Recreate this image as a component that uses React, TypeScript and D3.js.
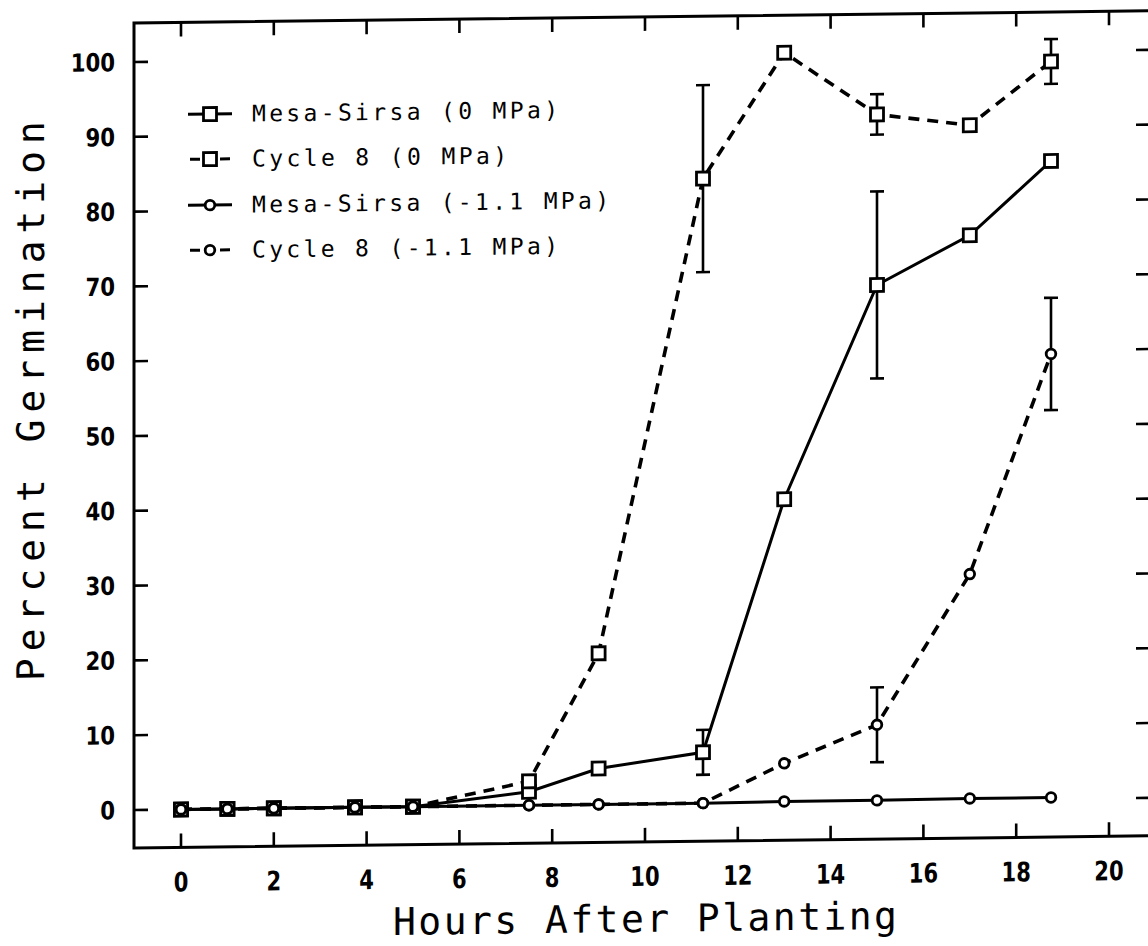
import React from 'react';
import * as d3 from 'd3';

// ---- data ----
const hours = [0, 1, 2, 3.75, 5, 7.5, 9, 11.25, 13, 15, 17, 18.75];

const mesaSirsa0 = [0, 0, 0, 0, 0, 1.8, 4.8, 6.8, 40.5, 69, 75.5, 85.3];
const mesaSirsa0Err = [0, 0, 0, 0, 0, 0, 0, 3, 0, 12.5, 0, 0];

const cycle8_0 = [0, 0, 0, 0, 0, 3.2, 20.2, 83.5, 100.2, 91.8, 90.2, 98.6];
const cycle8_0Err = [0, 0, 0, 0, 0, 0, 0, 12.5, 0, 2.7, 0, 3];

const mesaSirsaNeg = [0, 0, 0, 0, 0, 0, 0, 0, 0.1, 0.1, 0.2, 0.2];
const mesaSirsaNegErr = [0, 0, 0, 0, 0, 0, 0, 0, 0, 0, 0, 0];

const cycle8Neg = [0, 0, 0, 0, 0, 0, 0, 0, 5.2, 10.2, 30.2, 59.5];
const cycle8NegErr = [0, 0, 0, 0, 0, 0, 0, 0, 0, 5, 0, 7.5];

const seriesNames = [
  'Mesa-Sirsa (0 MPa)',
  'Cycle 8 (0 MPa)',
  'Mesa-Sirsa (-1.1 MPa)',
  'Cycle 8 (-1.1 MPa)',
];

const xTicks = [0, 2, 4, 6, 8, 10, 12, 14, 16, 18, 20];
const yTicks = [0, 10, 20, 30, 40, 50, 60, 70, 80, 90, 100];

const xTitle = 'Hours After Planting';
const yTitle = 'Percent Germination';

// ---- layout ----
const W = 1148;
const H = 946;
const frame = { left: 134, right: 1150, top: 23, bottom: 848 };
const skew = -0.012;
const DASH = '11 8';

type Series = {
  name: string;
  values: number[];
  err: number[];
  marker: 'square' | 'circle';
  dashed: boolean;
};

const series: Series[] = [
  { name: seriesNames[0], values: mesaSirsa0, err: mesaSirsa0Err, marker: 'square', dashed: false },
  { name: seriesNames[1], values: cycle8_0, err: cycle8_0Err, marker: 'square', dashed: true },
  { name: seriesNames[2], values: mesaSirsaNeg, err: mesaSirsaNegErr, marker: 'circle', dashed: false },
  { name: seriesNames[3], values: cycle8Neg, err: cycle8NegErr, marker: 'circle', dashed: true },
];

const Marker = ({ type, cx, cy }: { type: string; cx: number; cy: number }) =>
  type === 'square' ? (
    <rect x={cx - 6.5} y={cy - 6.5} width={13} height={13} fill="#fff" stroke="#000" strokeWidth={2.8} />
  ) : (
    <circle cx={cx} cy={cy} r={4.8} fill="#fff" stroke="#000" strokeWidth={2.8} />
  );

export default function App() {
  const x = d3.scaleLinear().domain([0, 20]).range([181, 1109]);
  const y = d3.scaleLinear().domain([0, 100]).range([810, 62]);

  const line = d3
    .line<number>()
    .x((_, i) => x(hours[i]))
    .y((d) => y(d));

  const tickLen = 14;
  const mono = '"DejaVu Sans Mono", monospace';
  const sans = '"DejaVu Sans", sans-serif';

  const legendRows = [115, 160, 206, 251];

  return (
    <svg
      width={W}
      height={H}
      viewBox={`0 0 ${W} ${H}`}
      style={{ position: 'absolute', left: 0, top: 0, background: '#fff' }}
    >
      <rect x={0} y={0} width={W} height={H} fill="#fff" />
      <g transform={`matrix(1, ${skew}, 0, 1, 0, ${-skew * frame.left})`}>
        {/* frame */}
        <rect
          x={frame.left}
          y={frame.top}
          width={frame.right - frame.left}
          height={frame.bottom - frame.top}
          fill="none"
          stroke="#000"
          strokeWidth={3}
        />
        {/* x ticks (bottom and top) */}
        {xTicks.map((t) => (
          <g key={'xt' + t}>
            <line x1={x(t)} x2={x(t)} y1={frame.bottom} y2={frame.bottom - tickLen} stroke="#000" strokeWidth={2.6} />
            <line x1={x(t)} x2={x(t)} y1={frame.top} y2={frame.top + tickLen} stroke="#000" strokeWidth={2.6} />
            <text
              transform={`translate(${x(t)},${frame.bottom + 44}) scale(0.78,1)`}
              textAnchor="middle"
              fontFamily={sans}
              fontWeight="bold"
              fontSize={27}
              fill="#000"
            >
              {t}
            </text>
          </g>
        ))}
        {/* y ticks (left and right) */}
        {yTicks.map((t) => (
          <g key={'yt' + t}>
            <line x1={frame.left} x2={frame.left + tickLen} y1={y(t)} y2={y(t)} stroke="#000" strokeWidth={2.6} />
            <line x1={frame.right} x2={frame.right - tickLen} y1={y(t)} y2={y(t)} stroke="#000" strokeWidth={2.6} />
            <text
              transform={`translate(115,${y(t) + 9}) scale(0.85,1)`}
              textAnchor="end"
              fontFamily={sans}
              fontWeight="bold"
              fontSize={25}
              fill="#000"
            >
              {t}
            </text>
          </g>
        ))}

        {/* axis titles */}
        <text
          x={393}
          y={938}
          textLength={504}
          lengthAdjust="spacing"
          fontFamily={mono}
          fontSize={38}
          fill="#000"
        >
          {xTitle}
        </text>
        <text
          transform={`translate(44,680) rotate(-90)`}
          textLength={560}
          lengthAdjust="spacing"
          fontFamily={mono}
          fontSize={38}
          fill="#000"
        >
          {yTitle}
        </text>

        {/* lines */}
        {series.map((s) => (
          <path
            key={'l' + s.name}
            d={line(s.values) || ''}
            fill="none"
            stroke="#000"
            strokeWidth={s.dashed ? 3.6 : 3}
            strokeDasharray={s.dashed ? DASH : undefined}
          />
        ))}

        {/* error bars */}
        {series.map((s) =>
          s.err.map((e, i) =>
            e > 0 ? (
              <g key={'e' + s.name + i} stroke="#000" strokeWidth={2.6}>
                <line x1={x(hours[i])} x2={x(hours[i])} y1={y(s.values[i] - e)} y2={y(s.values[i] + e)} />
                <line x1={x(hours[i]) - 7} x2={x(hours[i]) + 7} y1={y(s.values[i] - e)} y2={y(s.values[i] - e)} />
                <line x1={x(hours[i]) - 7} x2={x(hours[i]) + 7} y1={y(s.values[i] + e)} y2={y(s.values[i] + e)} />
              </g>
            ) : null
          )
        )}

        {/* markers */}
        {series.map((s) =>
          s.values.map((v, i) => (
            <Marker key={'m' + s.name + i} type={s.marker} cx={x(hours[i])} cy={y(v)} />
          ))
        )}

        {/* legend */}
        {series.map((s, i) => (
          <g key={'lg' + s.name}>
            {s.dashed ? (
              <>
                <line x1={190} x2={200} y1={legendRows[i]} y2={legendRows[i]} stroke="#000" strokeWidth={3} />
                <line x1={220} x2={230} y1={legendRows[i]} y2={legendRows[i]} stroke="#000" strokeWidth={3} />
              </>
            ) : (
              <line x1={188} x2={232} y1={legendRows[i]} y2={legendRows[i]} stroke="#000" strokeWidth={3} />
            )}
            <Marker type={s.marker} cx={210} cy={legendRows[i]} />
            <text
              x={252}
              y={legendRows[i] + 8}
              textLength={s.name.length * 17}
              lengthAdjust="spacing"
              fontFamily={mono}
              fontSize={23}
              fill="#000"
            >
              {s.name}
            </text>
          </g>
        ))}
      </g>
    </svg>
  );
}
